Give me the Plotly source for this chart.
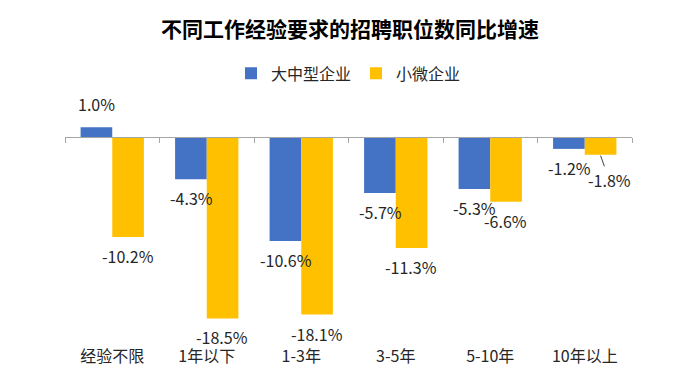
import plotly.graph_objects as go

categories = ["经验不限", "1年以下", "1-3年", "3-5年", "5-10年", "10年以上"]
large_mid = [1.0, -4.3, -10.6, -5.7, -5.3, -1.2]
small_micro = [-10.2, -18.5, -18.1, -11.3, -6.6, -1.8]
series_names = ["大中型企业", "小微企业"]
title_text = "不同工作经验要求的招聘职位数同比增速"

FONT = "Noto Sans CJK SC, Microsoft YaHei, sans-serif"
BLUE = "#4472C4"
YELLOW = "#FFC000"
TXT = "#262626"

# the page body has an 8px margin, so the figure is sized/positioned to compensate
W, H = 684, 371
yr = [-20.7, 4.3]
zero_pos = (0 - yr[0]) / (yr[1] - yr[0])

fig = go.Figure()
fig.add_trace(go.Bar(x=categories, y=large_mid, name=series_names[0],
                     marker=dict(color=BLUE, line=dict(width=0))))
fig.add_trace(go.Bar(x=categories, y=small_micro, name=series_names[1],
                     marker=dict(color=YELLOW, line=dict(width=0))))
# invisible trace to carry the zero-line category axis with tick marks
fig.add_trace(go.Scatter(x=categories, y=[None] * len(categories), xaxis="x2",
                         showlegend=False, hoverinfo="skip", mode="markers"))

annotations = []
half = 15.5
LBL = dict(family=FONT, size=16, color=TXT)
for vals, dx, idx in ((large_mid, -half, 0), (small_micro, half, 1)):
    for c, v in zip(categories, vals):
        txt = f"{v:.1f}%"
        if idx == 1 and c == "10年以上":
            annotations.append(dict(x=c, y=v, xref="x", yref="y", text=txt,
                                    xshift=dx, showarrow=True, arrowhead=0,
                                    arrowwidth=1, arrowcolor="#404040",
                                    ax=9, ay=25, standoff=1, font=LBL))
            continue
        if v >= 0:
            annotations.append(dict(x=c, y=v, xref="x", yref="y", text=txt,
                                    xshift=dx, yshift=9, yanchor="bottom",
                                    showarrow=False, font=LBL))
        else:
            annotations.append(dict(x=c, y=v, xref="x", yref="y", text=txt,
                                    xshift=dx, yshift=-5, yanchor="top",
                                    showarrow=False, font=LBL))

fig.update_layout(
    width=W, height=H,
    margin=dict(l=57, r=60, t=87, b=26),
    paper_bgcolor="white", plot_bgcolor="white",
    barmode="group", bargap=0.33, bargroupgap=0,
    title=dict(text="<b>" + title_text + "</b>", x=0.5, xref="container",
               xanchor="center", y=1 - 22 / H, yref="container", yanchor="middle",
               font=dict(family=FONT, size=21, color="black")),
    legend=dict(orientation="h", x=0.5, xanchor="center", y=1 + 22 / 250,
                yanchor="middle", font=dict(family=FONT, size=16, color=TXT),
                itemwidth=30, tracegroupgap=0),
    xaxis=dict(type="category", categoryorder="array", categoryarray=categories,
               range=[-0.5, len(categories) - 0.5], showline=False, ticks="",
               showgrid=False, zeroline=False, ticklabelstandoff=5,
               tickfont=dict(family=FONT, size=16, color=TXT)),
    xaxis2=dict(type="category", categoryorder="array", categoryarray=categories,
                range=[-0.5, len(categories) - 0.5], overlaying="x",
                anchor="free", position=zero_pos, side="bottom",
                showline=True, linecolor="#A6A6A6", linewidth=1,
                ticks="outside", tickson="boundaries", ticklen=5,
                tickcolor="#A6A6A6", showticklabels=False, showgrid=False,
                zeroline=False),
    yaxis=dict(range=yr, visible=False, showgrid=False, zeroline=False),
    annotations=annotations,
    showlegend=True,
)

fig.write_html("out.html")
